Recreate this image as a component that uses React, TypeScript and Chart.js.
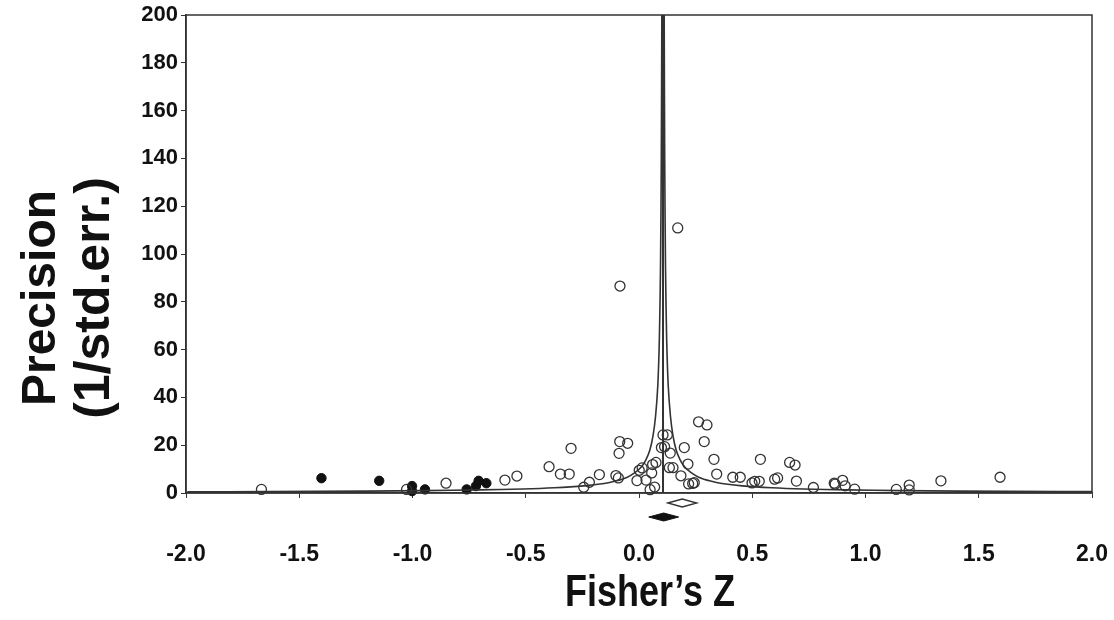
import React, { useEffect, useRef } from 'react';
import { Chart, registerables } from 'chart.js';

Chart.register(...registerables);

// Observed studies (open circles): Fisher's Z and precision (1/std.err.)
const observedZ = [
  -1.667, -1.026, -0.852, -0.592, -0.539, -0.397, -0.347, -0.308, -0.300, -0.244,
  -0.219, -0.175, -0.102, -0.091, -0.085, -0.050, -0.088, -0.009, 0.001, 0.014,
  0.031, 0.049, 0.069, 0.056, 0.060, 0.075, 0.106, 0.125, 0.099, 0.113,
  0.138, 0.134, 0.150, 0.185, 0.200, 0.216, 0.219, 0.237, 0.244, 0.171,
  -0.084, 0.263, 0.300, 0.288, 0.331, 0.343, 0.414, 0.447, 0.499, 0.511,
  0.531, 0.536, 0.599, 0.612, 0.665, 0.689, 0.695, 0.770, 0.862, 0.866,
  0.899, 0.910, 0.952, 1.136, 1.193, 1.193, 1.333, 1.594,
];
const observedPrecision = [
  1.5, 1.5, 4.1, 5.4, 7.1, 11.0, 7.9, 7.9, 18.7, 2.4,
  4.5, 7.7, 7.3, 6.3, 21.5, 20.8, 16.6, 5.2, 9.5, 10.5,
  5.4, 1.4, 2.5, 8.4, 11.9, 12.8, 24.3, 24.3, 19.0, 19.4,
  16.7, 10.6, 10.6, 7.2, 19.0, 12.1, 3.8, 4.0, 4.3, 110.9,
  86.6, 29.8, 28.5, 21.5, 14.1, 7.9, 6.6, 6.6, 4.2, 4.9,
  4.9, 14.1, 5.8, 6.3, 12.8, 11.7, 5.0, 2.3, 4.1, 3.7,
  5.3, 3.0, 1.6, 1.5, 3.3, 1.3, 5.1, 6.6,
];

// Imputed studies (filled circles)
const imputedZ = [-1.402, -1.147, -1.002, -1.002, -0.945, -0.761, -0.720, -0.708, -0.674];
const imputedPrecision = [6.2, 5.1, 2.9, 0.8, 1.5, 1.5, 2.9, 5.1, 4.1];

// Combined effect (vertical line) and funnel limits
const meanEffect = 0.106;
const funnelPrecision = [0.5, 0.6, 0.8, 1.0, 1.3, 1.7, 2.2, 3, 4, 5, 6.5, 8.5, 11, 14, 18, 24, 32, 45, 65, 95, 140, 200];
const funnelHalfWidth = [2.1, 1.75, 1.31, 1.05, 0.81, 0.62, 0.48, 0.35, 0.26, 0.21, 0.16, 0.124, 0.095, 0.075, 0.058, 0.044, 0.033, 0.023, 0.016, 0.011, 0.0075, 0.0052];

// Summary diamonds below the axis: observed (open) and adjusted (filled)
const diamondNames = ['observed', 'adjusted'];
const diamondCenter = [0.191, 0.109];
const diamondLower = [0.127, 0.043];
const diamondUpper = [0.255, 0.175];
const diamondFilled = [false, true];

const xTickStep = 0.5;
const yTickStep = 20;
const xTitle = 'Fisher\u2019s Z';
const yTitleLines = ['Precision', '(1/std.err.)'];

const FONT = "'Liberation Sans', Arial, Helvetica, sans-serif";
const INK = '#111';
const LINE = '#333';

const extrasPlugin = {
  id: 'extras',
  afterDatasetsDraw(chart: any) {
    const { ctx, chartArea: a, scales } = chart;
    ctx.save();
    ctx.strokeStyle = LINE;
    ctx.lineWidth = 1.5;
    ctx.strokeRect(a.left, a.top, a.right - a.left, a.bottom - a.top);
    const xs = scales.x;
    const ys = scales.y;
    diamondNames.forEach((_, i) => {
      const yc = ys.bottom + (i === 0 ? 10 : 24);
      const h = 4;
      const xl = xs.getPixelForValue(diamondLower[i]);
      const xr = xs.getPixelForValue(diamondUpper[i]);
      const xc = xs.getPixelForValue(diamondCenter[i]);
      ctx.beginPath();
      ctx.moveTo(xl, yc);
      ctx.lineTo(xc, yc - h);
      ctx.lineTo(xr, yc);
      ctx.lineTo(xc, yc + h);
      ctx.closePath();
      if (diamondFilled[i]) {
        ctx.fillStyle = INK;
        ctx.fill();
        ctx.lineWidth = 1;
        ctx.strokeStyle = INK;
        ctx.stroke();
      } else {
        ctx.lineWidth = 1.3;
        ctx.strokeStyle = LINE;
        ctx.stroke();
      }
    });
    ctx.restore();
  },
  afterDraw(chart: any) {
    const { ctx, chartArea: a } = chart;
    ctx.save();
    ctx.fillStyle = INK;
    ctx.textAlign = 'center';
    ctx.textBaseline = 'alphabetic';
    // x-axis title (condensed, like the original's narrow bold face)
    ctx.save();
    ctx.translate((a.left + a.right) / 2 + 11, 606);
    ctx.scale(0.8, 1);
    ctx.font = `bold 45px ${FONT}`;
    ctx.fillText(xTitle, 0, 0);
    ctx.restore();
    // y-axis title (two rotated lines)
    const yc = (a.top + a.bottom) / 2 + 44;
    const sizes = [48, 50];
    const baselines = [55, 109];
    yTitleLines.forEach((t, i) => {
      ctx.save();
      ctx.font = `bold ${sizes[i]}px ${FONT}`;
      ctx.translate(baselines[i], yc);
      ctx.rotate(-Math.PI / 2);
      ctx.fillText(t, 0, 0);
      ctx.restore();
    });
    ctx.restore();
  },
};

export default function App() {
  const ref = useRef<HTMLCanvasElement | null>(null);

  useEffect(() => {
    if (!ref.current) return;
    const observed = observedZ.map((z, i) => ({ x: z, y: observedPrecision[i] }));
    const imputed = imputedZ.map((z, i) => ({ x: z, y: imputedPrecision[i] }));
    const leftFunnel = funnelPrecision.map((p, i) => ({ x: meanEffect - funnelHalfWidth[i], y: p }));
    const rightFunnel = funnelPrecision.map((p, i) => ({ x: meanEffect + funnelHalfWidth[i], y: p }));
    const meanLine = [
      { x: meanEffect, y: 0 },
      { x: meanEffect, y: 200 },
    ];

    const lineDs = (data: any[]) => ({
      type: 'line' as const,
      data,
      borderColor: LINE,
      borderWidth: 1.6,
      pointRadius: 0,
      fill: false,
      tension: 0.3,
      showLine: true,
    });

    const chart = new Chart(ref.current, {
      type: 'scatter',
      data: {
        datasets: [
          lineDs(leftFunnel),
          lineDs(rightFunnel),
          { ...lineDs(meanLine), tension: 0, borderWidth: 2 },
          {
            type: 'scatter',
            data: observed,
            pointStyle: 'circle',
            pointRadius: 5,
            pointBorderWidth: 1.3,
            borderColor: LINE,
            backgroundColor: 'rgba(0,0,0,0)',
            pointBackgroundColor: 'rgba(0,0,0,0)',
            pointBorderColor: LINE,
            clip: false,
          } as any,
          {
            type: 'scatter',
            data: imputed,
            pointStyle: 'circle',
            pointRadius: 4.7,
            pointBorderWidth: 1,
            borderColor: INK,
            backgroundColor: INK,
            pointBackgroundColor: INK,
            pointBorderColor: INK,
            clip: false,
          } as any,
        ],
      },
      options: {
        responsive: false,
        animation: false,
        layout: { padding: { top: 15, right: 22, left: 0, bottom: 0 } },
        plugins: {
          legend: { display: false },
          tooltip: { enabled: false },
        },
        scales: {
          x: {
            type: 'linear',
            min: -2,
            max: 2,
            afterFit: (s: any) => {
              s.height = 127;
              s.paddingLeft = 0;
              s.paddingRight = 0;
            },
            ticks: {
              stepSize: xTickStep,
              callback: (v: any) => Number(v).toFixed(1),
              font: { family: FONT, size: 23, weight: 'bold' },
              color: INK,
              padding: 43,
              labelOffset: 0,
              maxRotation: 0,
              autoSkip: false,
            },
            grid: { drawOnChartArea: false, drawTicks: true, tickLength: 5, color: LINE },
            border: { display: true, color: LINE, width: 1.5 },
            title: { display: false },
          },
          y: {
            type: 'linear',
            min: 0,
            max: 200,
            afterFit: (s: any) => {
              s.width = 186;
              s.paddingTop = 0;
              s.paddingBottom = 0;
            },
            ticks: {
              stepSize: yTickStep,
              font: { family: FONT, size: 22, weight: 'bold' },
              color: INK,
              padding: 3,
            },
            grid: { drawOnChartArea: false, drawTicks: true, tickLength: 5, color: LINE },
            border: { display: true, color: LINE, width: 1.5 },
            title: { display: false },
          },
        },
      },
      plugins: [extrasPlugin],
    } as any);

    return () => chart.destroy();
  }, []);

  return (
    <div style={{ position: 'absolute', left: 0, top: 0, width: 1114, height: 620, background: '#fff' }}>
      <canvas ref={ref} width={1114} height={620} style={{ display: 'block', width: 1114, height: 620 }} />
    </div>
  );
}
